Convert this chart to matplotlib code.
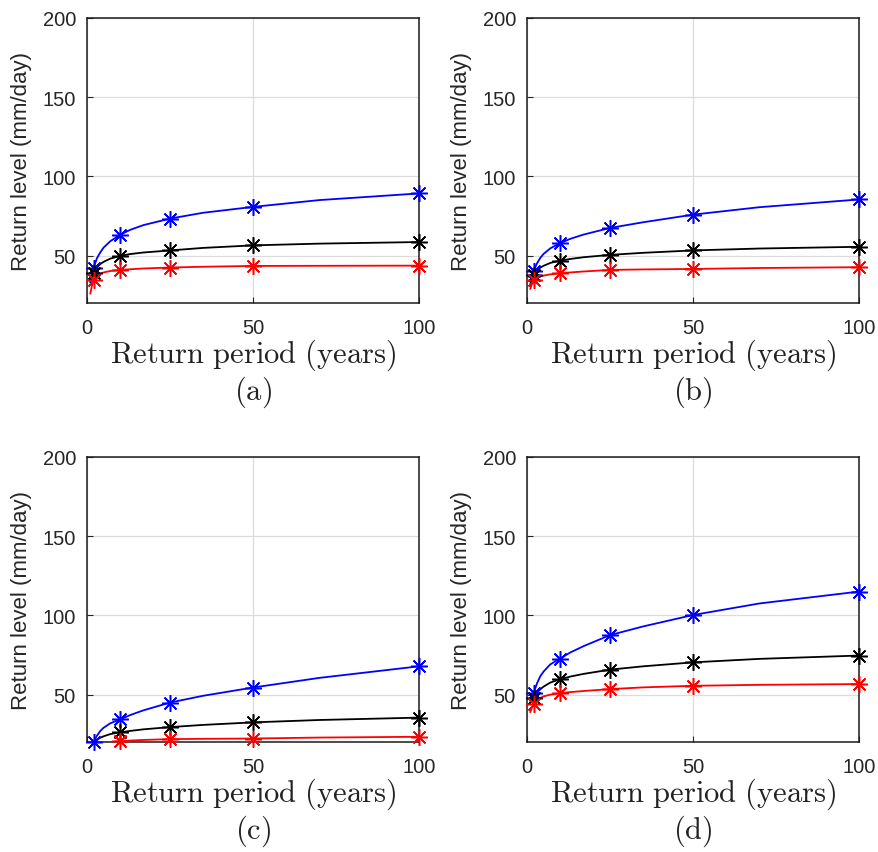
import numpy as np
import matplotlib
matplotlib.use("Agg")
import matplotlib.pyplot as plt

plt.rcParams['mathtext.fontset'] = 'cm'
plt.rcParams['font.family'] = ['Liberation Sans', 'DejaVu Sans']

# Return periods (years) for the fitted curves and for the markers
T_line = [1, 1.5, 2, 3, 4, 5, 7, 10, 13, 17, 25, 35, 50, 70, 100]
T_marker = [2, 10, 25, 50, 100]

# Panel (a)
a_blue = [33, 37.5, 42.4, 48.3, 52, 55, 59, 63.1, 66.2, 69.2, 73.3, 77, 80.7, 85, 89.2]
a_black = [34, 36.5, 38.8, 42.5, 44.6, 46, 48, 49.8, 50.9, 51.9, 53.2, 54.8, 56.4, 57.5, 58.5]
a_red = [26, 31, 34.5, 37.3, 38.5, 39.3, 40.2, 40.9, 41.3, 41.8, 42.4, 42.9, 43.4, 43.5, 43.6]
# Panel (b)
b_blue = [32, 36, 40.3, 45, 48.5, 51, 54.5, 57.8, 60.5, 63.2, 67.4, 71, 75.8, 80.5, 85.4]
b_black = [31, 34.5, 37.7, 40.5, 42.3, 43.5, 45.3, 46.8, 47.8, 48.9, 50.4, 51.7, 53.2, 54.4, 55.5]
b_red = [29, 32, 34.5, 36, 36.8, 37.3, 38.1, 38.8, 39.3, 39.9, 40.9, 41.2, 41.5, 42.1, 42.6]
# Panel (c)
c_blue = [12, 16, 20.1, 24, 27, 29, 31.8, 34.3, 37, 40, 44.9, 49.2, 54.4, 60.5, 67.8]
c_black = [12, 16, 19.8, 21.5, 22.7, 23.6, 25, 26.1, 27, 28, 29.4, 30.8, 32.4, 33.9, 35.4]
c_red = [8, 11.5, 14, 17, 18.6, 19.4, 20, 20.5, 20.9, 21.3, 21.8, 22, 22.2, 22.8, 23.3]
# Panel (d)
d_blue = [46, 48.5, 50.8, 57, 61.5, 64.5, 69, 72.7, 76.5, 80.5, 87.5, 93, 100.2, 107.5, 115.0]
d_black = [45, 46.5, 47.7, 51, 53.3, 55, 57.5, 59.7, 61.3, 63, 65.7, 67.8, 70.3, 72.5, 74.6]
d_red = [39, 41.8, 43.9, 46.3, 47.8, 48.8, 49.9, 50.8, 51.5, 52.2, 53.4, 54.5, 55.5, 56.1, 56.6]

panels = [
    ("(a)", a_blue, a_black, a_red),
    ("(b)", b_blue, b_black, b_red),
    ("(c)", c_blue, c_black, c_red),
    ("(d)", d_blue, d_black, d_red),
]
colors = ["#0000ff", "#000000", "#ff0000"]

W, H = 879, 853
fig = plt.figure(figsize=(W / 100, H / 100), dpi=100)

lefts = [87, 527, 87, 527]
tops = [19, 19, 458, 458]
aw, ah = 332, 285

yticks = [50, 100, 150, 200]
xticks = [0, 50, 100]
ymin, ymax = 20, 200
tick_color = "#262626"
ast = (8, 2, 0)

for (label, blue, black, red), l, t in zip(panels, lefts, tops):
    ax = fig.add_axes([l / W, 1 - (t + ah) / H, aw / W, ah / H])
    for vals, c in zip([blue, black, red], colors):
        ax.plot(T_line, vals, color=c, lw=1.3, zorder=3)
        my = [vals[T_line.index(T)] for T in T_marker]
        keep = [(x, y) for x, y in zip(T_marker, my) if ymin <= y <= ymax]
        if keep:
            kx, ky = zip(*keep)
            ax.plot(kx, ky, linestyle="none", marker=ast, markersize=12,
                    markeredgewidth=1.1, color=c, clip_on=False, zorder=4)
    ax.set_xlim(0, 100)
    ax.set_ylim(ymin, ymax)
    ax.set_xticks(xticks)
    ax.set_yticks(yticks)
    ax.grid(True, color="#dcdcdc", lw=0.9)
    ax.set_axisbelow(True)
    ax.tick_params(direction="in", length=4, width=0.8, colors=tick_color,
                   labelsize=14.5, labelcolor=tick_color)
    ax.tick_params(axis="x", pad=11)
    ax.tick_params(axis="y", pad=8)
    for s in ax.spines.values():
        s.set_color("#1a1a1a")
        s.set_linewidth(1.1)
    ax.set_ylabel("Return level (mm/day)", fontsize=16, color=tick_color)
    ax.yaxis.set_label_coords(-0.165, 0.5)
    ax.text(0.5, -0.18, r"$\mathrm{Return\ period\ (years)}$", transform=ax.transAxes,
            ha="center", va="center", fontsize=22, color="#222222")
    ax.text(0.5, -0.31, r"$\mathrm{" + label + "}$", transform=ax.transAxes,
            ha="center", va="center", fontsize=22, color="#222222")

fig.savefig("out.png", dpi=100)
